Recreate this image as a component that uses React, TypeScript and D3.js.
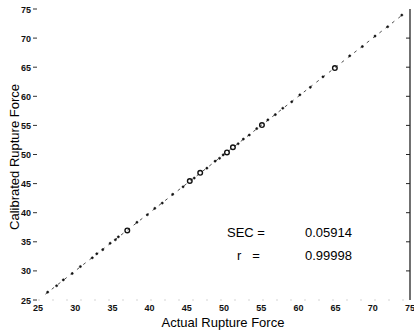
import React, { useEffect, useRef } from 'react';
import * as d3 from 'd3';

// measured values (actual vs calibrated rupture force)
const actualForce = [26.3, 27.5, 28.4, 29.6, 30.7, 32.3, 32.9, 33.7, 34.7, 35.4, 35.8, 37.0, 38.3, 39.7, 40.7,
  41.7, 43.1, 44.5, 45.4, 46.0, 46.8, 47.7, 48.8, 49.4, 49.9, 50.4, 51.2, 51.9, 52.6, 53.4, 54.4, 55.1,
  55.9, 56.9, 57.9, 59.1, 60.2, 61.6, 63.3, 64.9, 66.9, 68.6, 70.3, 72.0, 73.9];
const calibratedForce = [26.35, 27.45, 28.45, 29.55, 30.75, 32.25, 32.95, 33.65, 34.75, 35.35, 35.85, 36.95, 38.35, 39.65, 40.75,
  41.65, 43.15, 44.45, 45.45, 45.95, 46.85, 47.65, 48.85, 49.35, 49.95, 50.35, 51.25, 51.85, 52.65, 53.35, 54.45, 55.05,
  55.95, 56.85, 57.95, 59.05, 60.25, 61.55, 63.35, 64.85, 66.95, 68.55, 70.35, 71.95, 73.95];
const openMarkers = [37.0, 45.4, 46.8, 50.4, 51.2, 55.1, 64.9];
const xTicks = [25, 30, 35, 40, 45, 50, 55, 60, 65, 70, 75];
const yTicks = [25, 30, 35, 40, 45, 50, 55, 60, 65, 70, 75];
const statLabels = ['SEC =', 'r   ='];
const statValues = ['0.05914', '0.99998'];

const App = () => {
  const ref = useRef<SVGSVGElement>(null);

  useEffect(() => {
    const svg = d3.select(ref.current);
    svg.selectAll('*').remove();
    const font = 'Liberation Sans, Arial, sans-serif';

    const x = d3.scaleLinear().domain([25, 75]).range([38, 410]);
    const y = d3.scaleLinear().domain([25, 75]).range([300, 9]);

    // right border & faint bottom
    svg.append('line').attr('x1', 410).attr('x2', 410).attr('y1', 9).attr('y2', 300)
      .attr('stroke', '#111').attr('stroke-width', 1.2);
    svg.append('line').attr('x1', 38).attr('x2', 410).attr('y1', 300).attr('y2', 300)
      .attr('stroke', '#bbb').attr('stroke-width', 0.6).attr('stroke-dasharray', '2,12');

    // right side inner ticks
    svg.append('g').selectAll('line').data(yTicks.slice(1, -1)).enter().append('line')
      .attr('x1', 406).attr('x2', 410).attr('y1', d => y(d)).attr('y2', d => y(d))
      .attr('stroke', '#222').attr('stroke-width', 1);

    // y tick labels
    const yg = svg.append('g');
    yg.selectAll('text').data(yTicks).enter().append('text')
      .attr('x', 31).attr('y', d => y(d) + 3.5)
      .attr('text-anchor', 'end').attr('font-family', font).attr('font-size', 9)
      .attr('font-weight', 'bold').attr('fill', '#111')
      .text(d => d);
    yg.selectAll('line').data(yTicks).enter().append('line')
      .attr('x1', 33).attr('x2', 37).attr('y1', d => y(d)).attr('y2', d => y(d))
      .attr('stroke', '#333').attr('stroke-width', 1);

    // x tick labels
    svg.append('g').selectAll('text').data(xTicks).enter().append('text')
      .attr('x', d => x(d)).attr('y', 311)
      .attr('text-anchor', 'middle').attr('font-family', font).attr('font-size', 9)
      .attr('font-weight', 'bold').attr('fill', '#111')
      .text(d => d);

    // dashed fit line
    svg.append('line')
      .attr('x1', x(26)).attr('y1', y(26)).attr('x2', x(74)).attr('y2', y(74))
      .attr('stroke', '#222').attr('stroke-width', 0.8).attr('stroke-dasharray', '3,5');

    const pts = actualForce.map((a, i) => ({ a, c: calibratedForce[i] }));
    svg.append('g').selectAll('circle').data(pts).enter().append('circle')
      .attr('cx', d => x(d.a)).attr('cy', d => y(d.c))
      .attr('r', d => openMarkers.includes(d.a) ? 2.3 : 1.1)
      .attr('fill', d => openMarkers.includes(d.a) ? 'none' : '#111')
      .attr('stroke', '#111').attr('stroke-width', d => openMarkers.includes(d.a) ? 1.4 : 0.5);

    // stats
    const sg = svg.append('g').attr('font-family', font).attr('font-size', 13).attr('fill', '#000');
    statLabels.forEach((s, i) => {
      sg.append('text').attr('x', 227 + (i ? 10 : 0)).attr('y', 237 + i * 23)
        .style('white-space', 'pre').text(s);
      sg.append('text').attr('x', 305).attr('y', 237 + i * 23).text(statValues[i]);
    });

    // axis titles
    svg.append('text').attr('x', 223).attr('y', 327).attr('text-anchor', 'middle')
      .attr('font-family', font).attr('font-size', 13).text('Actual Rupture Force');
    svg.append('text').attr('transform', 'translate(19,157) rotate(-90)').attr('text-anchor', 'middle')
      .attr('font-family', font).attr('font-size', 13).text('Calibrated Rupture Force');
  }, []);

  return (
    <svg ref={ref} width={414} height={334}
      style={{ position: 'absolute', left: 0, top: 0, background: '#fff' }} />
  );
};

export default App;
